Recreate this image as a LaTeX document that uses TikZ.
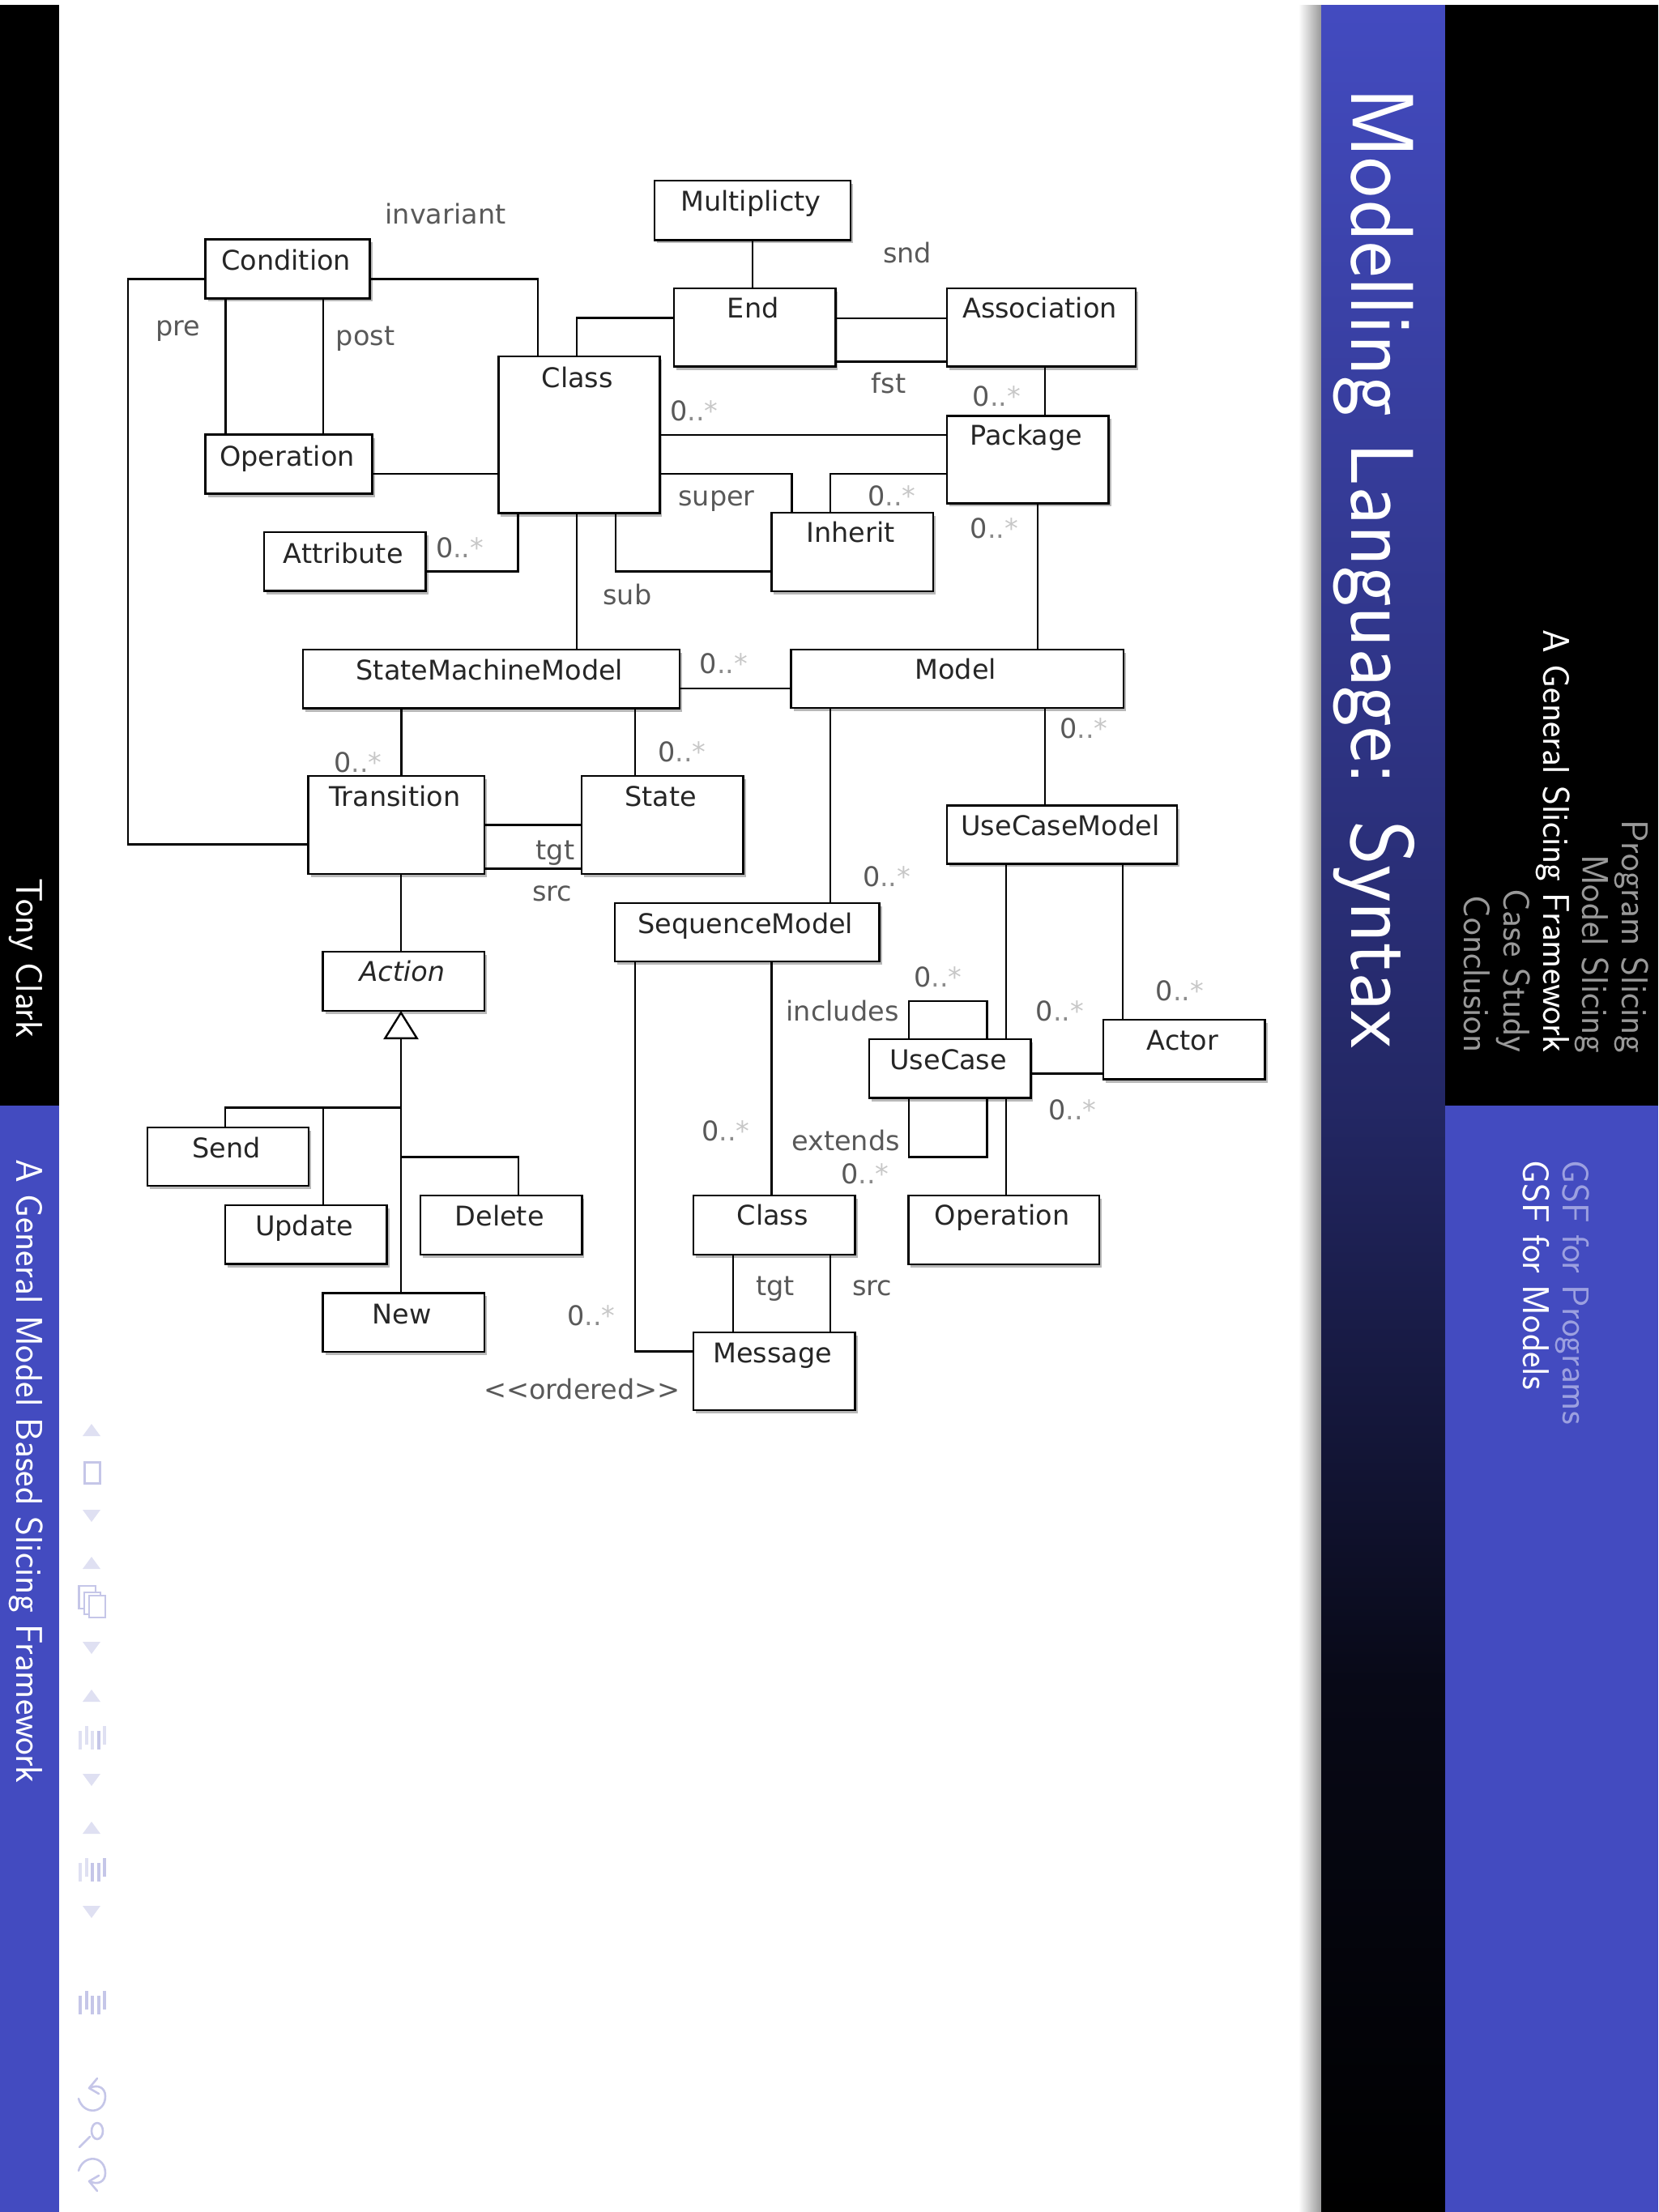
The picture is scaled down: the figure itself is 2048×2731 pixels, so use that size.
\documentclass[tikz,border=0pt]{standalone}
\usepackage{fontspec}
\usetikzlibrary{shadows,arrows.meta}
\newfontfamily\umlfam{DejaVu Sans}
\newcommand\umlf{\umlfam\fontsize{33.5}{36}\selectfont}
\definecolor{slideblue}{HTML}{434BC0}
\definecolor{navdark}{HTML}{C5C6E8}
\definecolor{navpale}{HTML}{DFE0F2}
\definecolor{navgray}{HTML}{999999}
\definecolor{navlight}{HTML}{9CA0E0}
\pgfdeclareverticalshading{sidegrad}{100bp}{color(0bp)=(black);color(25bp)=(black);color(37bp)=(black!70!slideblue!40!black);color(50bp)=(slideblue!52!black);color(75bp)=(slideblue);color(100bp)=(slideblue)}
\tikzset{
  umlbox/.style={rectangle,draw=black,line width=2.5pt,fill=white,inner sep=0pt,outer sep=0pt,align=center,font=\umlf,text=black!85,
    drop shadow={shadow xshift=3pt,shadow yshift=-4pt,opacity=.28,fill=black}},
  conn/.style={draw=black,line width=2.4pt,line cap=butt,line join=miter},
  lab/.style={anchor=base,inner sep=0pt,font=\umlf,text=black!65},
  manylab/.style={anchor=base west,inner sep=0pt,font=\umlf,text=black!65},
  rotbig/.style={rotate=-90,inner sep=0pt,font=\sffamily\fontsize{110}{110}\selectfont,text=white},
  rotnav/.style={rotate=-90,inner sep=0pt,font=\sffamily\fontsize{46}{46}\selectfont},
  navtri/.style={fill=navpale,draw=none},
  navline/.style={draw=navdark,line width=2.6pt,line cap=round,line join=round}
}
\newcommand\ubox[7]{%
  \pgfmathsetmacro\uW{#4-#2}\pgfmathsetmacro\uH{#6-#3}\pgfmathsetmacro\uD{#5-#6}%
  \node[umlbox,anchor=north west,text width=\uW pt,text height=\uH pt,text depth=\uD pt] (#1) at (#2,#3) {\mbox{#7\kern4pt}};}
\newcommand\vc[3]{\draw[conn] (#1,0 |- #2.south) -- (#1,0 |- #3.north);}
\newcommand\hc[3]{\draw[conn] (#2.east |- 0,#1) -- (#3.west |- 0,#1);}
\newcommand\many[3]{\node[manylab] (#1) at (#2,#3) {0\textcolor{black!45}{..}\textcolor{black!22}{*}};}
\newcommand\lab[4]{\node[lab] (#1) at (#2,#3) {#4};}
\newcommand\navup[1]{\fill[navtri] (102,#1+15) -- (124,#1+15) -- (113,#1) -- cycle;}
\newcommand\navdown[1]{\fill[navtri] (102,#1) -- (124,#1) -- (113,#1+15) -- cycle;}
\newcommand\navbars[6]{%
  \fill[#2] (97,#1+6) rectangle (101,#1+29);
  \fill[#3] (104.5,#1) rectangle (108.5,#1+23);
  \fill[#4] (112,#1+6) rectangle (116,#1+29);
  \fill[#5] (119.5,#1+6) rectangle (123.5,#1+29);
  \fill[#6] (127,#1) rectangle (131,#1+23);}
\begin{document}
\begin{tikzpicture}[x=1pt,y=-1pt]
\useasboundingbox (0,0) rectangle (2048,2731);
\fill[white] (0,0) rectangle (2048,2731);
% left sidebar
\fill[black] (0,6) rectangle (73,1365);
\fill[slideblue] (0,1365) rectangle (73,2731);
% right sidebar
\shade[left color=white,right color=black!40] (1603,6) rectangle (1631,2731);
\shade[shading=sidegrad] (1631,6) rectangle (1784,2731);
\fill[black] (1784,6) rectangle (2047,1365);
\fill[slideblue] (1784,1365) rectangle (2047,2731);
% sidebar texts
\node[rotnav,anchor=base west,text=white] (author) at (20.5,1084) {Tony Clark};
\node[rotnav,anchor=base west,text=white] (talk) at (20.5,1431) {A General Model Based Slicing Framework};
\node[rotbig,anchor=base west] (title) at (1668,108) {\scalebox{0.96}[1]{Modelling Language: Syntax}};
\node[rotnav,anchor=base east,text=navgray] (nav1) at (2002,1300) {Program Slicing};
\node[rotnav,anchor=base east,text=navgray] (nav2) at (1953,1300) {Model Slicing};
\node[rotnav,anchor=base east,text=white] (nav3) at (1905,1300) {A General Slicing Framework};
\node[rotnav,anchor=base east,text=navgray] (nav4) at (1856,1300) {Case Study};
\node[rotnav,anchor=base east,text=navgray] (nav5) at (1807,1300) {Conclusion};
\node[rotnav,anchor=base west,text=navlight] (sub1) at (1929,1432) {GSF for Programs};
\node[rotnav,anchor=base west,text=white] (sub2) at (1880,1432) {GSF for Models};
% navigation symbols
\navup{1758}
\draw[navdark,line width=3pt] (104,1805) rectangle (123,1831);
\navdown{1864}
\navup{1922}
\draw[navdark,line width=2.4pt,fill=white] (97.5,1958) rectangle (118,1986);
\draw[navdark,line width=2.4pt,fill=white] (104,1966) rectangle (124,1993);
\draw[navdark,line width=2.4pt,fill=white] (110,1970) rectangle (130,1997);
\navdown{2027}
\navup{2086}
\navbars{2131}{navpale}{navpale}{navpale}{navdark}{navpale}
\navdown{2190}
\navup{2249}
\navbars{2294}{navpale}{navpale}{navdark}{navdark}{navdark}
\navdown{2353}
\navbars{2458}{navdark}{navdark}{navdark}{navdark}{navdark}
\draw[navline] (97,2591) .. controls (103,2612) and (130,2610) .. (130,2588) .. controls (130,2577) and (120,2573) .. (111,2578);
\draw[navline] (120,2566) -- (110,2578) -- (122,2585);
\draw[navline] (120,2631) ellipse [x radius=7,y radius=10];
\draw[navline] (111,2638) -- (98,2651);
\draw[navline] (97,2680) .. controls (103,2659) and (130,2661) .. (130,2683) .. controls (130,2694) and (120,2698) .. (111,2693);
\draw[navline] (120,2705) -- (110,2693) -- (122,2686);
% UML boxes
\ubox{cond}{253.6}{295.4}{456.6}{368.4}{333.7}{Condition}
\ubox{oper}{253.6}{536.7}{459.7}{609.7}{575}{Operation}
\ubox{cls}{615.3}{439.8}{814.3}{633.7}{478}{Class}
\ubox{attr}{326}{657}{525.5}{729.6}{695}{Attribute}
\ubox{mult}{807.8}{223}{1050}{296.4}{260}{Multiplicty}
\ubox{nend}{832}{356}{1031.4}{452.7}{392.8}{End}
\ubox{assoc}{1169}{356}{1402}{452.7}{392.8}{Association}
\ubox{pack}{1169}{513.4}{1368.5}{621.4}{549}{Package}
\ubox{inh}{952.4}{633}{1152}{730}{669.6}{Inherit}
\ubox{smm}{374}{802}{838.8}{874.5}{839}{StateMachineModel}
\ubox{model}{976.5}{801.8}{1387}{874}{838.4}{Model}
\ubox{trans}{380.6}{958}{598}{1079}{995}{Transition}
\ubox{state}{718}{958}{917.7}{1079}{995}{State}
\ubox{ucm}{1169}{994.6}{1453}{1066.3}{1031.6}{UseCaseModel}
\ubox{seq}{759}{1114.8}{1085.7}{1187.2}{1152}{SequenceModel}
\ubox{action}{398.5}{1175}{598}{1248}{1211.7}{\itshape Action}
\ubox{uc}{1073}{1283}{1272.4}{1355.6}{1320}{UseCase}
\ubox{actor}{1362}{1259}{1561.7}{1332.7}{1296}{Actor}
\ubox{send}{182}{1391.8}{381}{1464}{1429.6}{Send}
\ubox{upd}{278}{1488}{477.6}{1560.7}{1525.5}{Update}
\ubox{del}{519}{1476}{718.4}{1549}{1513.8}{Delete}
\ubox{nnew}{398.5}{1596.4}{598}{1669}{1634}{New}
\ubox{cls2}{856}{1476}{1055.6}{1549}{1512.7}{Class}
\ubox{op2}{1121.4}{1476}{1357}{1561}{1512.7}{Operation}
\ubox{msg}{856}{1645}{1055.6}{1740.8}{1682}{Message}
% connectors
\coordinate (trunkA) at (495,1367.3);
\coordinate (trunkB) at (399,1367.3);
\coordinate (trunkC) at (495,1428.6);
\draw[conn] (cond.west |- 0,344.4) -- (158,344.4) -- (158,1042.3) -- (trans.west |- 0,1042.3);
\draw[conn] (cond.east |- 0,344.4) -- (663.8,344.4) -- (663.8,0 |- cls.north);
\vc{278.6}{cond}{oper}
\vc{399}{cond}{oper}
\hc{585.2}{oper}{cls}
\draw[conn] (attr.east |- 0,705.6) -- (639.3,705.6) -- (639.3,0 |- cls.south);
\draw[conn] (711.7,0 |- cls.north) -- (711.7,392.5) -- (nend.west |- 0,392.5);
\vc{928.8}{mult}{nend}
\hc{392.9}{nend}{assoc}
\hc{446.4}{nend}{assoc}
\vc{1290}{assoc}{pack}
\hc{536.7}{cls}{pack}
\draw[conn] (cls.east |- 0,585) -- (977.4,585) -- (977.4,0 |- inh.north);
\draw[conn] (pack.west |- 0,585) -- (1025,585) -- (1025,0 |- inh.north);
\draw[conn] (760.2,0 |- cls.south) -- (760.2,705.6) -- (inh.west |- 0,705.6);
\vc{712.2}{cls}{smm}
\vc{1281}{pack}{model}
\hc{850}{smm}{model}
\vc{495.4}{smm}{trans}
\vc{784.2}{smm}{state}
\hc{1018.4}{trans}{state}
\hc{1072.4}{trans}{state}
\vc{1290}{model}{ucm}
\vc{1025}{model}{seq}
\vc{495}{trans}{action}
\draw[conn,-{Triangle[open,fill=white,width=43pt,length=35pt]}] (495,0 |- nnew.north) -- (495,0 |- action.south);
\draw[conn] (trunkA) -- (278,1367.3) -- (278,0 |- send.north);
\draw[conn] (trunkB) -- (399,0 |- upd.north);
\draw[conn] (trunkC) -- (639.8,1428.6) -- (639.8,0 |- del.north);
\vc{1241.8}{ucm}{uc}
\vc{1386}{ucm}{actor}
\hc{1325.5}{uc}{actor}
\vc{1241.8}{uc}{op2}
\draw[conn] (1122,0 |- uc.north) -- (1122,1235.7) -- (1218.4,1235.7) -- (1218.4,0 |- uc.north);
\draw[conn] (1122,0 |- uc.south) -- (1122,1428.6) -- (1218.4,1428.6) -- (1218.4,0 |- uc.south);
\vc{952.6}{seq}{cls2}
\vc{905}{cls2}{msg}
\vc{1025}{cls2}{msg}
\draw[conn] (783.7,0 |- seq.south) -- (783.7,1668.4) -- (msg.west |- 0,1668.4);
% labels
\lab{lInv}{550}{276.5}{invariant}
\lab{lPre}{219.5}{414}{pre}
\lab{lPost}{451}{426}{post}
\lab{lSnd}{1120}{324}{snd}
\lab{lFst}{1097}{485.7}{fst}
\lab{lSuper}{884.5}{624}{super}
\lab{lSub}{774.5}{746}{sub}
\lab{lTgtA}{685.5}{1061}{tgt}
\lab{lSrcA}{681.5}{1112}{src}
\lab{lInc}{1040}{1260}{includes}
\lab{lExt}{1044}{1420}{extends}
\lab{lTgtB}{957}{1599.5}{tgt}
\lab{lSrcB}{1076.5}{1599.5}{src}
\lab{lOrd}{718.5}{1727}{<{}<ordered>{}>}
\many{mA}{827}{519.5}
\many{mB}{1200.6}{501}
\many{mC}{1071}{624}
\many{mD}{1197.5}{664}
\many{mE}{863.6}{831.7}
\many{mF}{537.8}{688.8}
\many{mG}{412}{953}
\many{mH}{812}{940.8}
\many{mI}{1308}{911}
\many{mJ}{1064.8}{1094}
\many{mK}{1128}{1218}
\many{mL}{1278.6}{1260}
\many{mM}{1426.5}{1235.7}
\many{mN}{1294}{1382.6}
\many{mO}{866}{1408}
\many{mP}{1038}{1461.7}
\many{mQ}{700}{1636}
\end{tikzpicture}
\end{document}
